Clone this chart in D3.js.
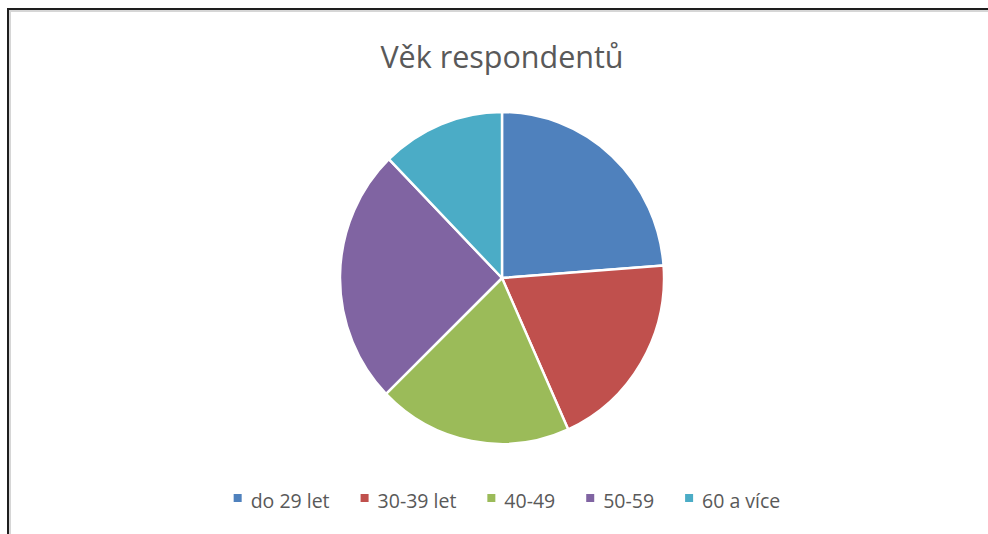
<!DOCTYPE html>
<html>
<head>
<meta charset="utf-8">
<script src="https://cdn.jsdelivr.net/npm/d3@7"></script>
<style>
  html, body { margin: 0; padding: 0; background: #fff; }
  svg { display: block; }
</style>
</head>
<body>
<svg id="chart" width="988" height="534"></svg>
<script>
const title = "Věk respondentů";
const categories = ["do 29 let", "30-39 let", "40-49", "50-59", "60 a více"];
const values = [23.8, 19.5, 19.4, 25.0, 12.3];
const colors = ["#4F81BD", "#C0504D", "#9BBB59", "#8064A2", "#4BACC6"];

const W = 988, H = 534;
const svg = d3.select("#chart");
const font = "'Open Sans', 'DejaVu Sans', sans-serif";

// frame
svg.append("rect").attr("x", 10).attr("y", 11).attr("width", W + 20).attr("height", H + 20)
  .attr("fill", "none").attr("stroke", "#d6d6d6").attr("stroke-width", 2);
svg.append("rect").attr("x", 8).attr("y", 9).attr("width", W + 20).attr("height", H + 20)
  .attr("fill", "none").attr("stroke", "#1e1e1e").attr("stroke-width", 2);

// title
svg.append("text")
  .attr("x", 502).attr("y", 68)
  .attr("text-anchor", "middle")
  .attr("font-family", font)
  .attr("font-size", 30.5)
  .attr("fill", "#595959")
  .text(title);

// pie (slightly narrower horizontally, as in the reference)
const cx = 502, cy = 278, r = 166, sx = 162 / 166;
const pie = d3.pie().sort(null).value(d => d)(values);
const arc = d3.arc().innerRadius(0).outerRadius(r);
const g = svg.append("g").attr("transform", `translate(${cx},${cy}) scale(${sx},1)`);
g.selectAll("path").data(pie).join("path")
  .attr("d", arc)
  .attr("fill", (d, i) => colors[i])
  .attr("stroke", "#fff")
  .attr("stroke-width", 2.5)
  .attr("stroke-linejoin", "round");

// legend
const legend = svg.append("g");
const items = legend.selectAll("g").data(categories).join("g");
items.append("rect").attr("width", 8).attr("height", 8).attr("y", 494)
  .attr("fill", (d, i) => colors[i]);
items.append("text").attr("y", 508)
  .attr("font-family", font).attr("font-size", 19.5).attr("fill", "#595959")
  .text(d => d);
const sq = 8, gapText = 9, gapItem = 31;
let widths = [];
items.select("text").each(function() { widths.push(this.getComputedTextLength()); });
const total = d3.sum(widths) + categories.length * (sq + gapText) + (categories.length - 1) * gapItem;
let x = 507 - total / 2;
items.each(function(d, i) {
  const it = d3.select(this);
  it.select("rect").attr("x", x);
  it.select("text").attr("x", x + sq + gapText);
  x += sq + gapText + widths[i] + gapItem;
});
</script>
</body>
</html>
